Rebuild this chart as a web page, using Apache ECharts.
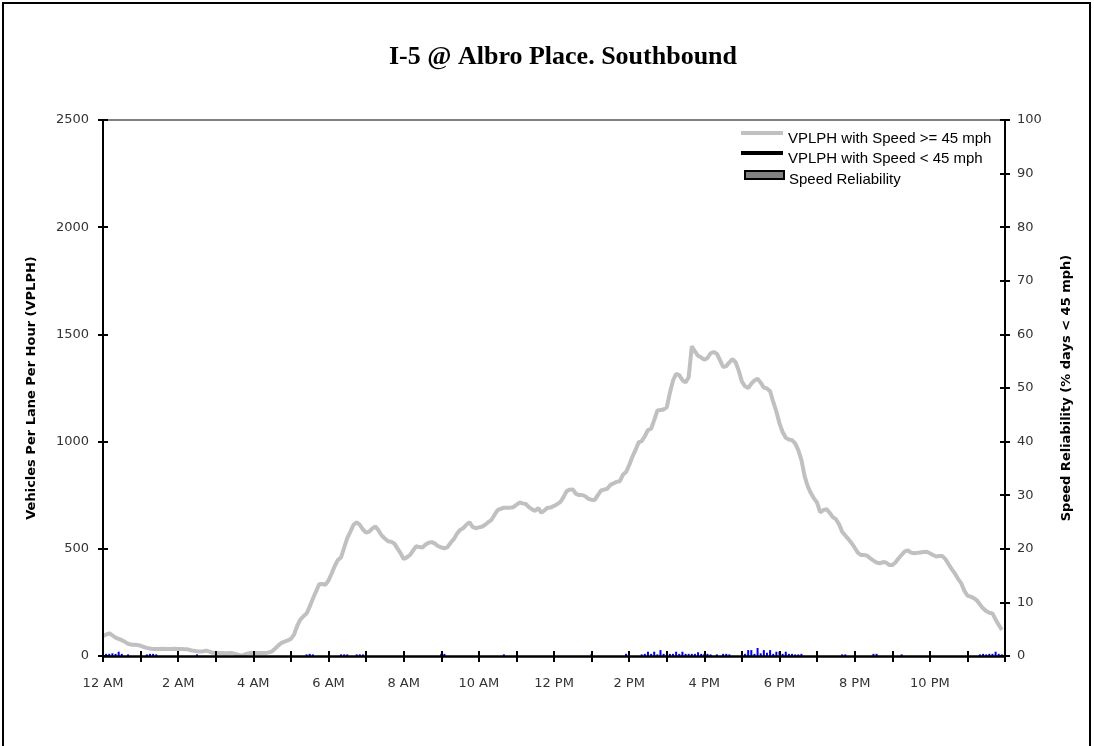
<!DOCTYPE html>
<html>
<head>
<meta charset="utf-8">
<script src="https://cdn.jsdelivr.net/npm/echarts@6/dist/echarts.min.js"></script>
<style>html,body{margin:0;padding:0;background:#fff;}#chart{width:1094px;height:746px;}</style>
</head>
<body>
<div id="chart"></div>
<script>
// ---- data (5-minute intervals, 288 per day) ----
const chartTitle = 'I-5 @ Albro Place. Southbound';
const seriesNames = ['VPLPH with Speed >= 45 mph', 'VPLPH with Speed < 45 mph', 'Speed Reliability'];
const xTickLabels = ['12 AM','2 AM','4 AM','6 AM','8 AM','10 AM','12 PM','2 PM','4 PM','6 PM','8 PM','10 PM'];
const leftAxisName = 'Vehicles Per Lane Per Hour (VPLPH)';
const rightAxisName = 'Speed Reliability (% days < 45 mph)';

const vplphHigh = [
  93,100,106,96,86,80,74,66,57,53,52,51,
  48,42,38,35,33,33,33,34,33,33,33,34,
  33,33,32,31,27,24,22,21,22,25,20,15,
  14,14,14,13,14,14,11,6,3,5,11,14,
  14,14,14,14,14,17,22,35,50,61,67,73,
  80,100,140,170,185,198,230,267,300,335,336,332,
  352,385,420,448,460,505,550,580,612,624,612,590,
  575,580,595,604,585,562,548,535,533,525,502,480,
  452,460,471,492,512,508,506,520,528,531,524,512,
  507,502,508,528,545,570,588,596,612,624,602,596,
  600,603,612,624,634,658,680,686,692,692,692,694,
  705,716,712,709,694,684,677,690,668,680,692,693,
  700,708,718,740,768,776,777,756,751,751,745,733,
  729,728,750,772,776,780,798,805,812,815,845,858,
  890,928,960,996,1002,1025,1054,1060,1100,1145,1147,1150,
  1160,1228,1285,1316,1310,1287,1276,1300,1445,1420,1400,1392,
  1382,1390,1412,1418,1410,1380,1348,1352,1370,1385,1370,1330,
  1280,1258,1250,1270,1285,1293,1275,1252,1248,1235,1185,1140,
  1085,1045,1018,1010,1007,992,960,915,840,792,760,735,
  715,670,680,685,668,648,638,615,580,562,545,527,
  505,482,471,471,468,455,445,436,432,438,436,425,
  424,436,455,472,488,492,482,479,481,483,485,486,
  479,471,464,466,466,452,428,405,385,360,340,305,
  282,277,270,260,240,222,210,202,199,170,145,121
];
const vplphLow = []; // no intervals below 45 mph
const reliability = [
  0.4,0.4,0.4,0.5,0.4,0.8,0.4,0,0.3,0,0,0,
  0,0,0.3,0.4,0.4,0.3,0,0,0,0,0,0,
  0,0,0,0,0,0,0.3,0,0,0,0,0,
  0,0,0,0,0,0,0,0,0,0,0,0,
  0,0,0,0,0,0,0,0,0,0,0,0,
  0,0,0,0,0,0.3,0.4,0.3,0,0,0,0,
  0,0,0,0,0.3,0.3,0.3,0,0,0.3,0.3,0.3,
  0,0,0,0,0,0,0,0,0,0,0,0,
  0,0,0,0,0,0,0,0,0,0,0,0,
  0.4,0.4,0,0,0,0,0,0,0,0,0,0,
  0,0,0,0,0,0,0,0,0.3,0,0,0,
  0,0,0,0,0,0,0,0,0,0,0,0,
  0,0,0,0,0,0,0,0,0,0,0,0,
  0.4,0,0,0,0,0,0,0,0,0,0,0.4,
  0,0,0,0,0.3,0.4,0.8,0.4,0.8,0.3,1.1,0.4,
  0.3,0.4,0.4,0.8,0.4,0.8,0.4,0.4,0.4,0.4,0.7,0.4,
  0.4,0.4,0.3,0,0.3,0,0.4,0.4,0.3,0,0,0,
  0.3,0.4,1.1,1.1,0.4,1.5,0.5,1.1,0.6,1.1,0.4,0.8,
  0.8,0.4,0.8,0.4,0.4,0.3,0.3,0.4,0,0,0,0,
  0.4,0,0,0,0,0,0,0,0.3,0.3,0,0,
  0,0,0,0,0,0,0.4,0.4,0,0,0,0,
  0,0,0,0.3,0,0,0,0,0,0,0,0,
  0,0,0,0,0,0,0,0,0,0,0,0,
  0,0,0,0,0.3,0.4,0.3,0.4,0.4,0.8,0.4,0.3
];
const stepMinutes = 5;

// ---- chart ----
const chart = echarts.init(document.getElementById('chart'), null, {renderer: 'canvas'});
const tickFont = {fontFamily: 'DejaVu Sans', fontSize: 13, color: '#333'};
const toPairs = arr => arr.map((v, i) => [i * stepMinutes, v]);
const legendText = {fontFamily: 'Liberation Sans', fontSize: 15, color: '#000'};

const xBase = {type: 'value', min: 0, max: 1440, interval: 60, gridIndex: 0, splitLine: {show: false}, z: 10};
const option = {
  animation: false,
  backgroundColor: '#fff',
  title: {
    text: chartTitle, left: 558, top: 39, textAlign: 'center',
    textStyle: {fontFamily: 'Liberation Serif', fontWeight: 'bold', fontSize: 26, color: '#000'}
  },
  graphic: [{
    type: 'rect', shape: {x: 3, y: 3, width: 1087, height: 800},
    style: {fill: 'none', stroke: '#000', lineWidth: 2}, silent: true
  }],
  grid: {left: 103, right: 89, top: 120, bottom: 90, containLabel: false},
  legend: [
    {data: [{name: seriesNames[0], icon: 'path://M0,0H42V4H0Z M0,16Z'}], left: 741, top: 131, padding: 0,
     itemWidth: 42, itemHeight: 16, selectedMode: false, textStyle: legendText},
    {data: [{name: seriesNames[1], icon: 'path://M0,0H42V4H0Z M0,16Z'}], left: 741, top: 151, padding: 0,
     itemWidth: 42, itemHeight: 16, selectedMode: false, textStyle: legendText},
    {data: [{name: seriesNames[2], icon: 'path://M0,0H39V8H0Z M0,18Z'}], left: 744, top: 170, padding: 0,
     itemWidth: 39, itemHeight: 18, selectedMode: false,
     itemStyle: {color: '#808080', borderColor: '#000', borderWidth: 2},
     textStyle: legendText}
  ],
  xAxis: [
    Object.assign({}, xBase, {
      position: 'bottom',
      axisLine: {onZero: false, lineStyle: {color: '#000', width: 2.5}},
      axisTick: {show: true, inside: false, length: 6, lineStyle: {color: '#000', width: 2}},
      axisLabel: Object.assign({margin: 21, showMaxLabel: true, showMinLabel: true,
        formatter: v => (v % 120 === 0 && v < 1440) ? xTickLabels[v / 120] : ''}, tickFont)
    }),
    Object.assign({}, xBase, {
      position: 'bottom',
      axisLine: {show: false, onZero: false},
      axisTick: {show: true, inside: true, length: 5, lineStyle: {color: '#000', width: 2}},
      axisLabel: {show: false}
    }),
    Object.assign({}, xBase, {
      position: 'top',
      axisLine: {show: true, onZero: false, lineStyle: {color: '#808080', width: 2}},
      axisTick: {show: false}, axisLabel: {show: false}
    })
  ],
  yAxis: [
    {type: 'value', position: 'left', min: 0, max: 2500, interval: 500, z: 10,
     name: leftAxisName, nameLocation: 'middle', nameGap: 65, nameRotate: 90,
     nameTextStyle: {fontFamily: 'DejaVu Sans', fontWeight: 'bold', fontSize: 13, color: '#000'},
     splitLine: {show: false},
     axisLine: {show: true, onZero: false, lineStyle: {color: '#000', width: 2}},
     axisTick: {show: true, inside: false, length: 5, lineStyle: {color: '#000', width: 2}},
     axisLabel: Object.assign({margin: 14, formatter: v => String(v)}, tickFont)},
    {type: 'value', position: 'right', min: 0, max: 100, interval: 10, z: 10,
     name: rightAxisName, nameLocation: 'middle', nameGap: 55, nameRotate: 90,
     nameTextStyle: {fontFamily: 'DejaVu Sans', fontWeight: 'bold', fontSize: 13, color: '#000'},
     splitLine: {show: false},
     axisLine: {show: true, onZero: false, lineStyle: {color: '#000', width: 2}},
     axisTick: {show: true, inside: false, length: 5, lineStyle: {color: '#000', width: 2}},
     axisLabel: Object.assign({margin: 12, formatter: v => String(v)}, tickFont)},
    {type: 'value', position: 'left', min: 0, max: 2500, interval: 500, z: 10,
     splitLine: {show: false}, axisLine: {show: false, onZero: false},
     axisTick: {show: true, inside: true, length: 5, lineStyle: {color: '#000', width: 2}},
     axisLabel: {show: false}},
    {type: 'value', position: 'right', min: 0, max: 100, interval: 10, z: 10,
     splitLine: {show: false}, axisLine: {show: false, onZero: false},
     axisTick: {show: true, inside: true, length: 5, lineStyle: {color: '#000', width: 2}},
     axisLabel: {show: false}}
  ],
  series: [
    {name: seriesNames[0], type: 'line', xAxisIndex: 0, yAxisIndex: 0, data: toPairs(vplphHigh),
     showSymbol: false, symbol: 'none', color: '#c0c0c0',
     lineStyle: {color: '#c0c0c0', width: 4}, z: 3},
    {name: seriesNames[1], type: 'line', xAxisIndex: 0, yAxisIndex: 0, data: toPairs(vplphLow),
     showSymbol: false, symbol: 'none', color: '#000',
     lineStyle: {color: '#000', width: 4}, z: 4},
    {name: seriesNames[2], type: 'bar', xAxisIndex: 0, yAxisIndex: 1, data: toPairs(reliability),
     barWidth: 2, color: '#0000ff', itemStyle: {color: '#0000ff'}, z: 2}
  ]
};
chart.setOption(option);
</script>
</body>
</html>
